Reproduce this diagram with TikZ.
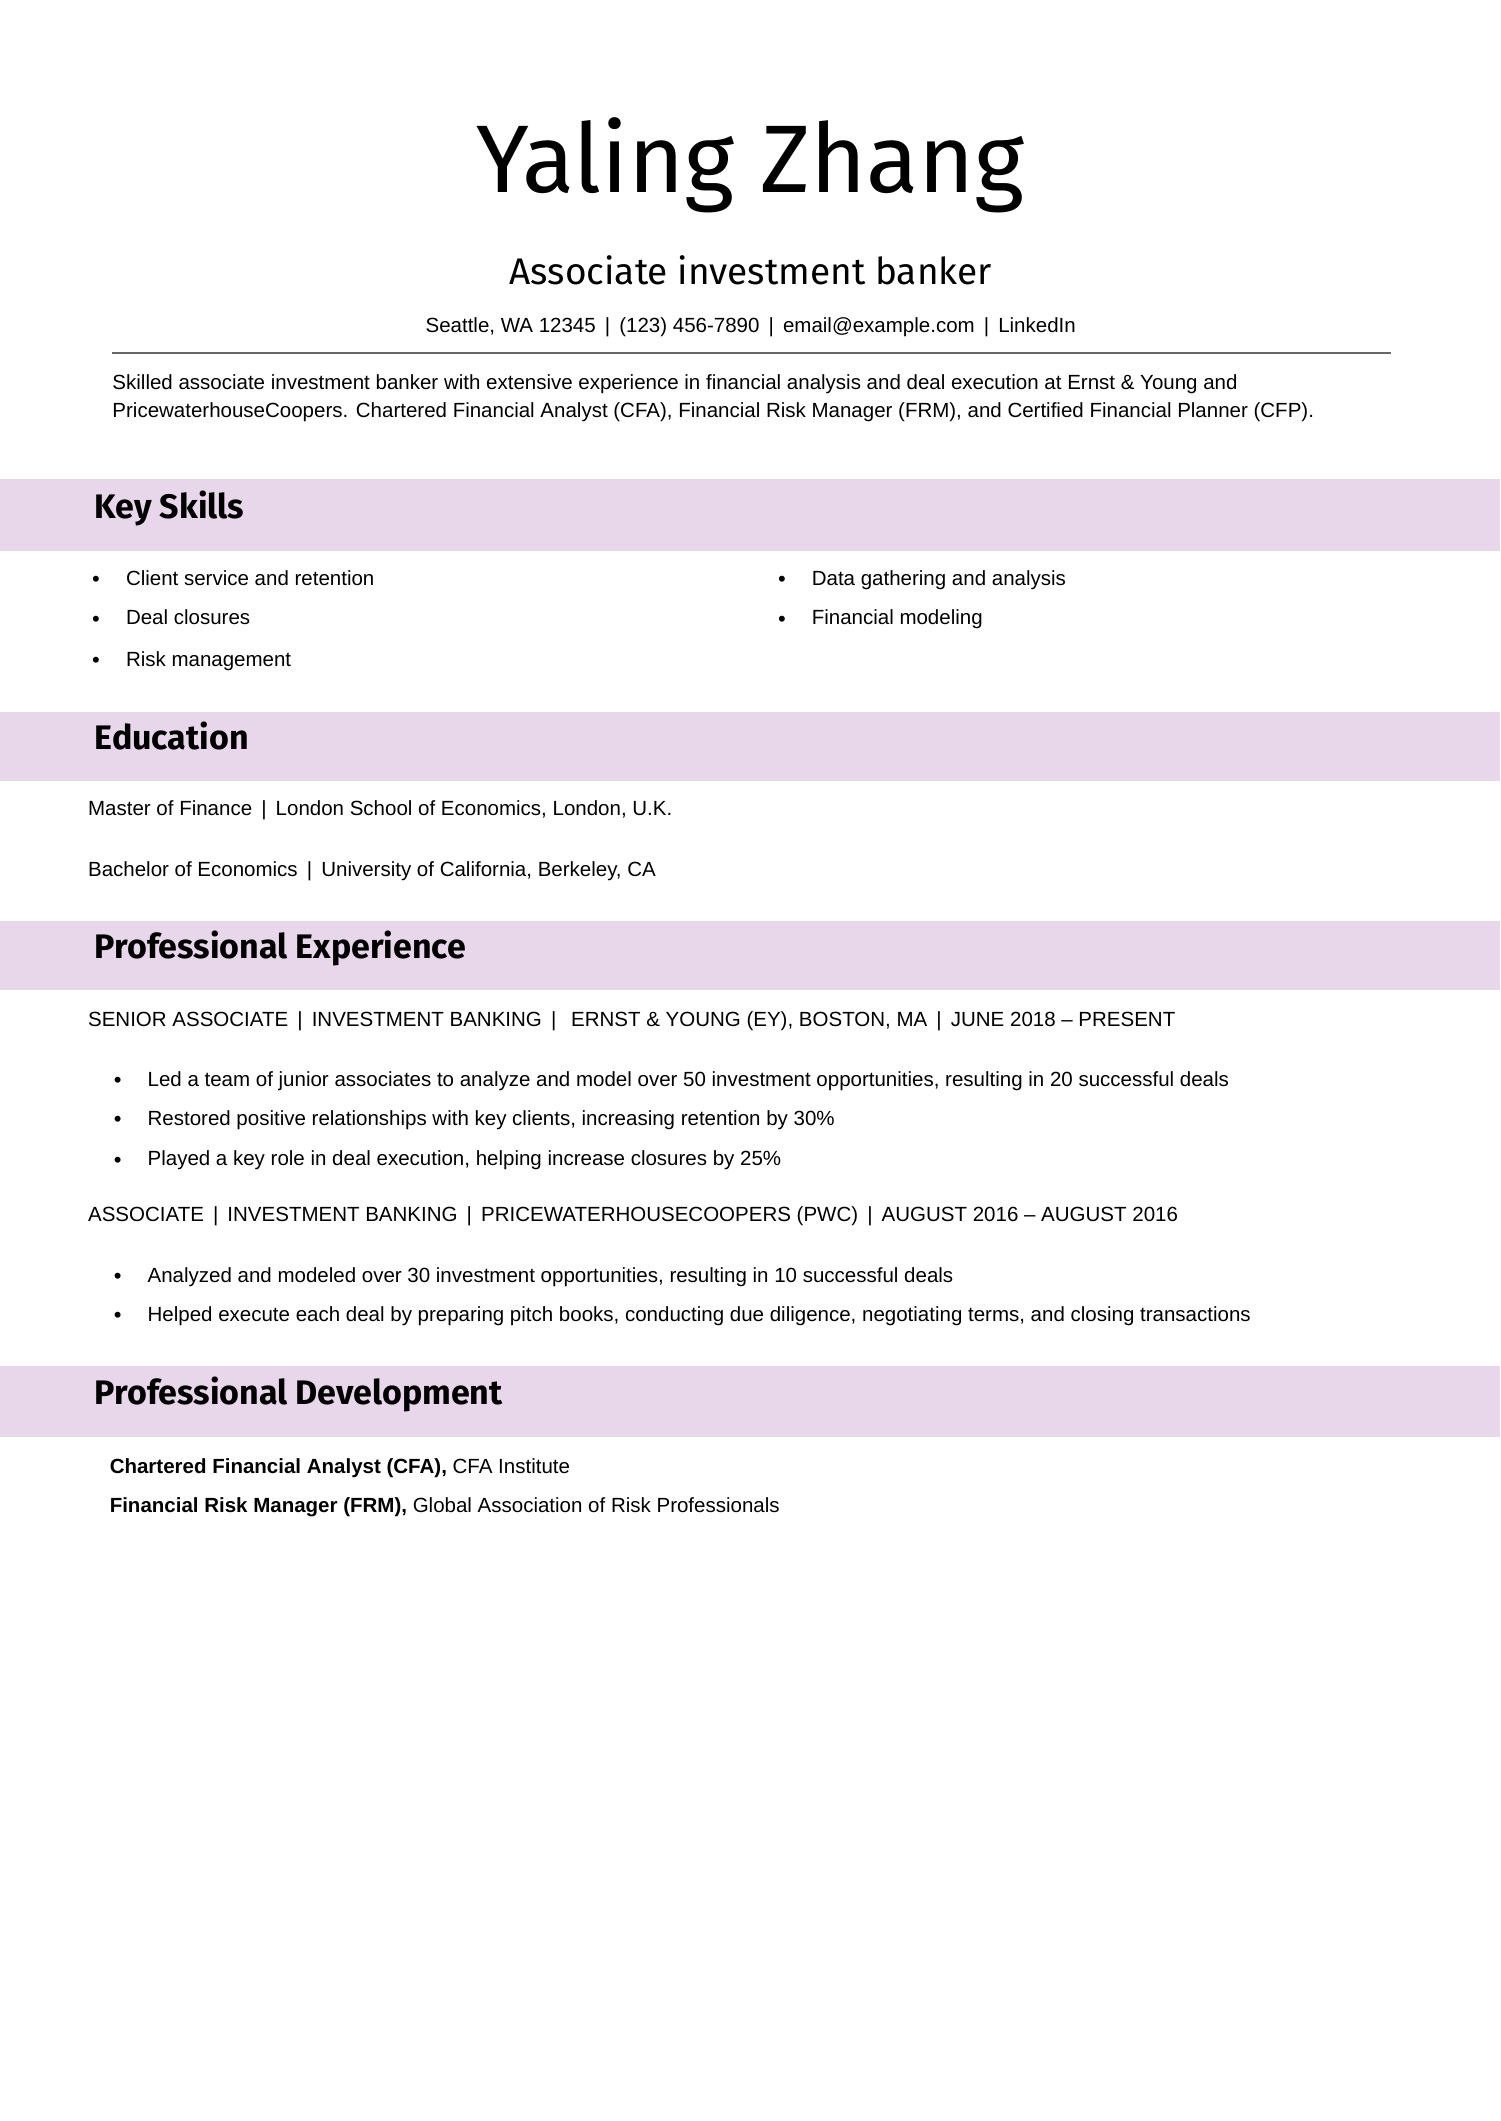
\documentclass[tikz,border=0pt]{standalone}
\usepackage{fontspec}
\setmainfont{Liberation Sans}
\newfontfamily\headfont{Fira Sans}
\definecolor{band}{HTML}{E8D6EA}
\definecolor{rulec}{HTML}{666666}
\begin{document}
\begin{tikzpicture}[x=1.3526pt,y=-1.3526pt,
  body/.style={anchor=mid west,inner sep=0pt,font=\fontsize{20.5}{25}\selectfont},
  head/.style={anchor=mid west,inner sep=0pt,font=\headfont\fontsize{34}{40}\selectfont\bfseries},
  bul/.style={anchor=center,inner sep=0pt,font=\fontsize{22}{25}\selectfont}]
\useasboundingbox (0,0) rectangle (1109,1568);
\fill[white] (0,0) rectangle (1109,1568);
\node[inner sep=0pt,font=\headfont\fontsize{96}{110}\selectfont] (name) at (555,122) {Yaling Zhang};
\node[inner sep=0pt,font=\headfont\fontsize{37}{44}\selectfont] (title) at (555,200) {Associate investment banker};
\node[inner sep=0pt,font=\fontsize{20.5}{25}\selectfont] (contact) at (555,242) {Seattle, WA 12345 \,|\, (123) 456-7890 \,|\, email@example.com \,|\, LinkedIn};
\draw[rulec,line width=1.8pt] (83,261) -- (1028,261);
\node[body] (s1) at (83,286) {Skilled associate investment banker with extensive experience in financial analysis and deal execution at Ernst \& Young and};
\node[body] (s2) at (83,307) {PricewaterhouseCoopers. Chartered Financial Analyst (CFA), Financial Risk Manager (FRM), and Certified Financial Planner (CFP).};
% bands
\fill[band] (0,354) rectangle (1109,407);
\fill[band] (0,526) rectangle (1109,577);
\fill[band] (0,681) rectangle (1109,732);
\fill[band] (0,1010) rectangle (1109,1062);
\node[head] (h1) at (70,381) {Key Skills};
\node[head] (h2) at (70,552) {Education};
\node[head] (h3) at (70,707) {Professional Experience};
\node[head] (h4) at (70,1036) {Professional Development};
% skills
\foreach \y/\t [count=\i] in {431/Client service and retention,460/Deal closures,491/Risk management}{
  \node[bul] (kb\i) at (71,\y-1) {•};
  \node[body] (k\i) at (93,\y) {\t};}
\foreach \y/\t [count=\i] in {431/Data gathering and analysis,460/Financial modeling}{
  \node[bul] (rb\i) at (578,\y-1) {•};
  \node[body] (r\i) at (600,\y) {\t};}
% education
\node[body] (e1) at (65,601) {Master of Finance \,|\, London School of Economics, London, U.K.};
\node[body] (e2) at (65,646) {Bachelor of Economics \,|\, University of California, Berkeley, CA};
% experience
\node[body] (j1) at (65,757) {SENIOR ASSOCIATE \,|\, INVESTMENT BANKING \,|\, \ ERNST \& YOUNG (EY), BOSTON, MA \,|\, JUNE 2018 – PRESENT};
\foreach \y/\t [count=\i] in {801/{Led a team of junior associates to analyze and model over 50 investment opportunities, resulting in 20 successful deals},830/{Restored positive relationships with key clients, increasing retention by 30\%},860/{Played a key role in deal execution, helping increase closures by 25\%}}{
  \node[bul] (ab\i) at (87,\y-1) {•};
  \node[body] (a\i) at (109,\y) {\t};}
\node[body] (j2) at (65,901) {ASSOCIATE \,|\, INVESTMENT BANKING \,|\, PRICEWATERHOUSECOOPERS (PWC) \,|\, AUGUST 2016 – AUGUST 2016};
\foreach \y/\t [count=\i] in {946/{Analyzed and modeled over 30 investment opportunities, resulting in 10 successful deals},975/{Helped execute each deal by preparing pitch books, conducting due diligence, negotiating terms, and closing transactions}}{
  \node[bul] (bb\i) at (87,\y-1) {•};
  \node[body] (b\i) at (109,\y) {\t};}
% development
\node[body] (d1) at (81,1087) {\textbf{Chartered Financial Analyst (CFA),} CFA Institute};
\node[body] (d2) at (81,1116) {\textbf{Financial Risk Manager (FRM),} Global Association of Risk Professionals};
\end{tikzpicture}
\end{document}
